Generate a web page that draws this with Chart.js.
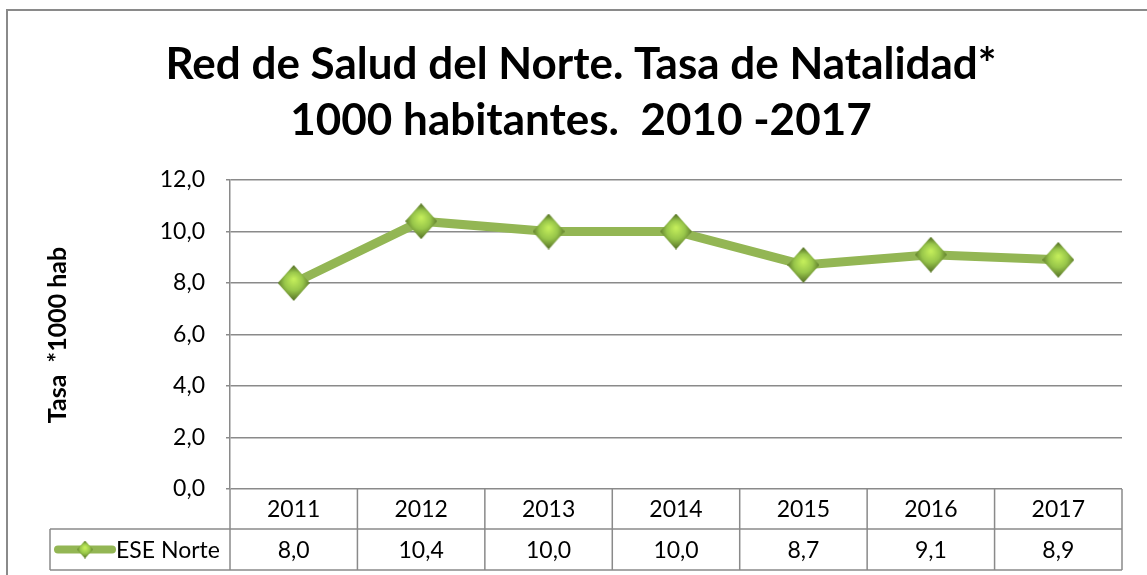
<!DOCTYPE html>
<html>
<head>
<meta charset="utf-8">
<script src="https://cdn.jsdelivr.net/npm/chart.js@4"></script>
<style>
  html, body { margin: 0; padding: 0; background: #fff; }
  #wrap { position: relative; width: 1147px; height: 575px; }
</style>
</head>
<body>
<div id="wrap"><canvas id="chart" width="1147" height="575"></canvas></div>
<script>
const years = ['2011', '2012', '2013', '2014', '2015', '2016', '2017'];
const eseNorte = [8.0, 10.4, 10.0, 10.0, 8.7, 9.1, 8.9];
const seriesName = 'ESE Norte';
const titleLines = ['Red de Salud del Norte. Tasa de Natalidad*', '1000 habitantes.  2010 -2017'];
const yTitle = 'Tasa  *1000 hab';

const GRID = '#8a8a8a';
const LINE = '#93b654';
const FONT = 'Lato, "Open Sans", sans-serif';

const fmt = v => v.toFixed(1).replace('.', ',');

// diamond marker with a soft gradient
function makeDiamond(w, h) {
	let c = document.createElement('canvas');
	c.width = w;
	c.height = h;
	let g = c.getContext('2d');
	let grad = g.createRadialGradient(w / 2, h * 0.4, 1, w / 2, h / 2, w / 2);
	grad.addColorStop(0, '#c2ec5a');
	grad.addColorStop(0.55, '#98c64a');
	grad.addColorStop(1, '#5f7d2c');
	g.beginPath();
	g.moveTo(w / 2, 0);
	g.lineTo(w, h / 2);
	g.lineTo(w / 2, h);
	g.lineTo(0, h / 2);
	g.closePath();
	g.fillStyle = grad;
	g.fill();
	return c;
}
const marker = makeDiamond(32, 36);
const smallMarker = makeDiamond(16, 18);

const decorations = {
	id: 'decorations',
	beforeDraw(chart) {
		let {ctx} = chart;
		ctx.save();
		// outer frame
		ctx.strokeStyle = GRID;
		ctx.lineWidth = 2;
		ctx.strokeRect(7, 10, 1200, 700);
		// title
		ctx.fillStyle = '#000';
		ctx.textAlign = 'center';
		ctx.textBaseline = 'middle';
		ctx.font = 'bold 44px ' + FONT;
		ctx.fillText(titleLines[0], 581, 65);
		ctx.fillText(titleLines[1], 581, 121);
		// y axis title
		ctx.translate(58, 335);
		ctx.rotate(-Math.PI / 2);
		ctx.font = 'bold 25px ' + FONT;
		ctx.fillText(yTitle, 0, 0);
		ctx.restore();
	},
	afterDraw(chart) {
		let {ctx, chartArea, scales: {x}} = chart;
		let top = chartArea.bottom;
		let mid = top + 40;
		let bottom = mid + 41;
		let colW = chartArea.width / years.length;
		ctx.save();
		ctx.strokeStyle = GRID;
		ctx.lineWidth = 1.5;
		ctx.beginPath();
		// horizontal lines
		ctx.moveTo(50, mid);
		ctx.lineTo(chartArea.right, mid);
		ctx.moveTo(50, bottom);
		ctx.lineTo(chartArea.right, bottom);
		ctx.moveTo(50, mid);
		ctx.lineTo(50, bottom);
		for (let i = 0; i <= years.length; i++) {
			let px = chartArea.left + i * colW;
			ctx.moveTo(px, top);
			ctx.lineTo(px, bottom);
		}
		ctx.stroke();
		ctx.fillStyle = '#000';
		ctx.textAlign = 'center';
		ctx.textBaseline = 'middle';
		ctx.font = '23px ' + FONT;
		years.forEach((yr, i) => {
			let px = x.getPixelForValue(i);
			ctx.fillText(yr, px, (top + mid) / 2 + 1);
			ctx.fillText(fmt(eseNorte[i]), px, (mid + bottom) / 2 + 1);
		});
		// legend key
		let ly = (mid + bottom) / 2;
		ctx.strokeStyle = LINE;
		ctx.lineWidth = 8;
		ctx.lineCap = 'round';
		ctx.beginPath();
		ctx.moveTo(58, ly);
		ctx.lineTo(112, ly);
		ctx.stroke();
		ctx.drawImage(smallMarker, 85 - 8, ly - 9);
		ctx.textAlign = 'left';
		ctx.fillText(seriesName, 116, ly + 1);
		ctx.restore();
	},
};

new Chart(document.getElementById('chart'), {
	type: 'line',
	data: {
		labels: years,
		datasets: [{
			label: seriesName,
			data: eseNorte,
			borderColor: LINE,
			borderWidth: 9,
			pointStyle: marker,
			pointRadius: 16,
			tension: 0,
		}],
	},
	options: {
		responsive: false,
		animation: false,
		layout: {
			padding: {top: 180, right: 14, bottom: 86, left: 0},
		},
		plugins: {
			legend: {display: false},
			tooltip: {enabled: false},
		},
		scales: {
			x: {
				display: false,
				offset: true,
			},
			y: {
				min: 0,
				max: 12,
				afterFit(scale) { scale.width = 230; },
				border: {color: GRID, width: 1.5},
				grid: {color: GRID, lineWidth: 1.5, tickLength: 4},
				ticks: {
					stepSize: 2,
					padding: 21,
					color: '#000',
					font: {family: FONT, size: 23},
					callback: v => fmt(v),
				},
			},
		},
	},
	plugins: [decorations],
});
</script>
</body>
</html>
